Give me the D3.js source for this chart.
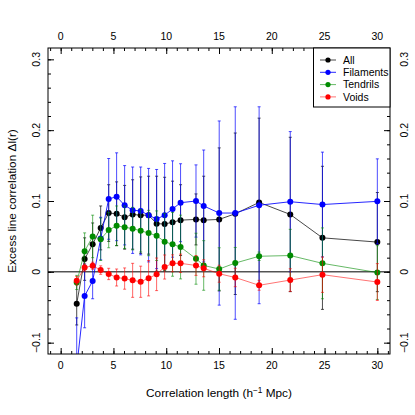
<!DOCTYPE html>
<html><head><meta charset="utf-8">
<script src="https://cdn.jsdelivr.net/npm/d3@7"></script>
<style>
html,body{margin:0;padding:0;background:#fff;}
text{font-family:"Liberation Sans",Arial,Helvetica,sans-serif;}
</style></head>
<body><svg id="c" width="415" height="415"></svg>
<script>
// ---- data ----
const xVals = [1.52, 2.27, 3.03, 3.79, 4.55, 5.30, 6.06, 6.82, 7.58, 8.33, 9.09, 9.85, 10.6, 11.36, 12.82, 13.55, 15.02, 16.54, 18.8, 21.75, 24.8, 30.0];
const allVals = [-0.045, 0.018, 0.039, 0.062, 0.083, 0.082, 0.077, 0.081, 0.080, 0.080, 0.068, 0.0675, 0.070, 0.073, 0.074, 0.073, 0.074, 0.082, 0.098, 0.081, 0.048, 0.042];
const allErr  = [0.030, 0.030, 0.030, 0.031, 0.040, 0.045, 0.045, 0.049, 0.054, 0.055, 0.067, 0.066, 0.058, 0.050, 0.036, 0.062, 0.101, 0.114, 0.119, 0.109, 0.101, 0.070];
const filVals = [-0.135, -0.034, -0.013, 0.047, 0.103, 0.106, 0.094, 0.087, 0.086, 0.080, 0.0745, 0.080, 0.0887, 0.0976, 0.100, 0.093, 0.083, 0.083, 0.094, 0.099, 0.095, 0.0995];
const filErr  = [0.070, 0.045, 0.025, 0.030, 0.057, 0.062, 0.056, 0.061, 0.062, 0.066, 0.070, 0.073, 0.068, 0.055, 0.051, 0.079, 0.130, 0.150, 0.139, 0.099, 0.074, 0.060];
const tenVals = [-0.015, 0.029, 0.050, 0.046, 0.059, 0.065, 0.063, 0.061, 0.058, 0.0548, 0.051, 0.0425, 0.0388, 0.035, 0.0185, 0.009, 0.004, 0.0124, 0.022, 0.023, 0.012, -0.001];
const tenErr  = [0.010, 0.026, 0.030, 0.030, 0.025, 0.028, 0.030, 0.030, 0.030, 0.032, 0.035, 0.040, 0.045, 0.045, 0.036, 0.035, 0.030, 0.022, 0.006, 0.037, 0.050, 0.038];
const voiVals = [-0.0125, 0.006, 0.0086, 0.0025, -0.003, -0.008, -0.0095, -0.012, -0.014, -0.009, -0.0035, 0.0068, 0.012, 0.012, 0.009, 0.005, -0.0027, -0.008, -0.019, -0.0116, -0.004, -0.0144];
const voiErr  = [0.006, 0.005, 0.005, 0.006, 0.008, 0.012, 0.015, 0.024, 0.022, 0.025, 0.023, 0.017, 0.012, 0.013, 0.014, 0.012, 0.012, 0.013, 0.007, 0.016, 0.025, 0.026];
const seriesNames = ["All", "Filaments", "Tendrils", "Voids"];
const xTicks = [0, 5, 10, 15, 20, 25, 30];
const yTicks = [-0.1, 0, 0.1, 0.2, 0.3];
const yTickLabels = ["\u22120.1", "0", "0.1", "0.2", "0.3"];
const xLabel = "Correlation length (h";
const yLabel = "Excess line correlation \u0394l(r)";

// ---- styling ----
const styles = [
  {pt:"#000000", line:"rgba(40,40,40,0.85)", bar:"rgba(0,0,0,0.7)"},
  {pt:"#0000FF", line:"rgba(0,0,255,0.85)", bar:"rgba(0,0,255,0.7)"},
  {pt:"#008B00", line:"rgba(0,139,0,0.6)", bar:"rgba(0,139,0,0.6)"},
  {pt:"#FF0000", line:"rgba(255,0,0,0.55)", bar:"rgba(255,0,0,0.6)"}
];
const series = [
  {name:seriesNames[0], v:allVals, e:allErr},
  {name:seriesNames[1], v:filVals, e:filErr},
  {name:seriesNames[2], v:tenVals, e:tenErr},
  {name:seriesNames[3], v:voiVals, e:voiErr}
];

const L = 48, R = 390, T = 48, B = 354;
const x = d3.scaleLinear().domain([-1.2, 31.2]).range([L, R]);
const y = d3.scaleLinear().domain([-0.116, 0.316]).range([B, T]);
const svg = d3.select("#c");

svg.append("defs").append("clipPath").attr("id","clip")
  .append("rect").attr("x",L).attr("y",T).attr("width",R-L).attr("height",B-T);

const plot = svg.append("g").attr("clip-path","url(#clip)");
// zero line
plot.append("line").attr("x1",L).attr("x2",R).attr("y1",y(0)).attr("y2",y(0))
  .attr("stroke","#000").attr("stroke-width",1);

series.forEach((s, i) => {
  const st = styles[i];
  const g = plot.append("g");
  const pts = xVals.map((xv, k) => ({x:xv, v:s.v[k], e:s.e[k]}));
  // error bars
  pts.forEach(p => {
    const xp = x(p.x), y1 = y(p.v + p.e), y2 = y(p.v - p.e);
    g.append("line").attr("x1",xp).attr("x2",xp).attr("y1",y1).attr("y2",y2)
      .attr("stroke",st.bar).attr("stroke-width",1);
    [y1, y2].forEach(yy => g.append("line").attr("x1",xp-1.5).attr("x2",xp+1.5)
      .attr("y1",yy).attr("y2",yy).attr("stroke",st.bar).attr("stroke-width",1));
  });
  g.append("path").datum(pts)
    .attr("d", d3.line().x(d => x(d.x)).y(d => y(d.v)))
    .attr("fill","none").attr("stroke",st.line).attr("stroke-width",1);
  g.selectAll("circle").data(pts).enter().append("circle")
    .attr("cx", d => x(d.x)).attr("cy", d => y(d.v)).attr("r", 3)
    .attr("fill", st.pt);
});

// axes (ticks only, inward)
const xMinor = d3.range(-1, 32, 1);
const yMinor = d3.range(-0.1, 0.3001, 0.02);
function tickAxis(axisFn, scale, vals, size, tr){
  svg.append("g").attr("transform", tr)
    .call(axisFn(scale).tickValues(vals).tickSize(size).tickFormat(""))
    .call(g => { g.select(".domain").remove(); g.selectAll("line").attr("stroke","#000"); });
}
tickAxis(d3.axisBottom, x, xMinor, -3, `translate(0,${B})`);
tickAxis(d3.axisBottom, x, xTicks, -6, `translate(0,${B})`);
tickAxis(d3.axisTop, x, xMinor, -3, `translate(0,${T})`);
tickAxis(d3.axisTop, x, xTicks, -6, `translate(0,${T})`);
tickAxis(d3.axisLeft, y, yMinor, -3, `translate(${L},0)`);
tickAxis(d3.axisLeft, y, yTicks, -6, `translate(${L},0)`);
tickAxis(d3.axisRight, y, yMinor, -3, `translate(${R},0)`);
tickAxis(d3.axisRight, y, yTicks, -6, `translate(${R},0)`);

svg.append("rect").attr("x",L).attr("y",T).attr("width",R-L).attr("height",B-T)
  .attr("fill","none").attr("stroke","#000").attr("stroke-width",1);

// tick labels
const fs = 10.5, tfs = 11.8;
xTicks.forEach(t => {
  svg.append("text").attr("x",x(t)).attr("y",369).attr("text-anchor","middle")
    .attr("font-size",fs).text(t);
  svg.append("text").attr("x",x(t)).attr("y",40).attr("text-anchor","middle")
    .attr("font-size",fs).text(t);
});
yTicks.forEach((t, k) => {
  svg.append("text").attr("transform",`translate(40,${y(t)}) rotate(-90)`)
    .attr("text-anchor","middle").attr("font-size",fs).text(yTickLabels[k]);
  svg.append("text").attr("transform",`translate(408,${y(t)}) rotate(-90)`)
    .attr("text-anchor","middle").attr("font-size",fs).text(yTickLabels[k]);
});

// axis titles
const xt = svg.append("text").attr("x",(L+R)/2).attr("y",397).attr("text-anchor","middle")
  .attr("font-size",tfs);
xt.append("tspan").text(xLabel);
xt.append("tspan").attr("dy",-4.5).attr("font-size",8.3).text("\u22121");
xt.append("tspan").attr("dy",4.5).text(" Mpc)");
svg.append("text").attr("transform",`translate(16,${(T+B)/2}) rotate(-90)`)
  .attr("text-anchor","middle").attr("font-size",tfs).text(yLabel);

// legend
const lg = svg.append("g");
lg.append("rect").attr("x",313.5).attr("y",T).attr("width",R-313.5).attr("height",59)
  .attr("fill","#fff").attr("stroke","#000").attr("stroke-width",1);
series.forEach((s, i) => {
  const yy = 60 + i * 12.3;
  lg.append("line").attr("x1",320).attr("x2",336).attr("y1",yy).attr("y2",yy)
    .attr("stroke",styles[i].line).attr("stroke-width",1);
  lg.append("circle").attr("cx",328).attr("cy",yy).attr("r",2.6).attr("fill",styles[i].pt);
  lg.append("text").attr("x",343).attr("y",yy+3.7).attr("font-size",fs).text(s.name);
});
</script></body></html>
